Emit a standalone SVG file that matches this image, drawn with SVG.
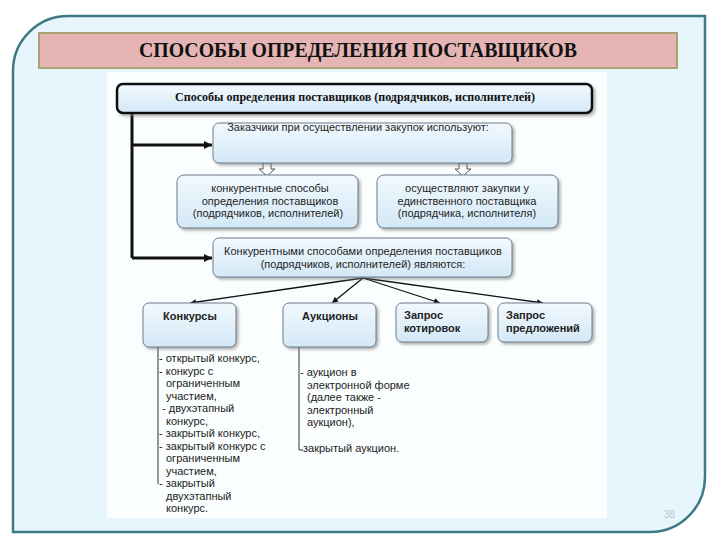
<svg xmlns="http://www.w3.org/2000/svg" width="720" height="540" viewBox="0 0 720 540">
<defs>
<linearGradient id="bg" x1="0" y1="0" x2="0" y2="1">
<stop offset="0" stop-color="#f2f9fe"/>
<stop offset="1" stop-color="#d3e8f6"/>
</linearGradient>
<filter id="sh" x="-10%" y="-10%" width="130%" height="140%">
<feDropShadow dx="2" dy="2" stdDeviation="1.5" flood-color="#7a7a7a" flood-opacity="0.6"/>
</filter>
<marker id="ah" viewBox="0 0 10 10" refX="10" refY="5" markerWidth="9" markerHeight="8" markerUnits="userSpaceOnUse" orient="auto">
<path d="M0,0 L10,5 L0,10 Z" fill="#111"/>
</marker>
<marker id="as" viewBox="0 0 10 10" refX="10" refY="5" markerWidth="7" markerHeight="6" markerUnits="userSpaceOnUse" orient="auto">
<path d="M0,0 L10,5 L0,10 Z" fill="#111"/>
</marker>
</defs>
<style>
.box{fill:url(#bg);stroke:#6f7d8a;stroke-width:1;filter:url(#sh)}
.t{font-family:"Liberation Sans",Arial,sans-serif;font-size:11px;fill:#1e1e1e;text-anchor:middle}
.b{font-weight:bold}
.l{font-family:"Liberation Sans",Arial,sans-serif;font-size:11px;fill:#222}
.thin{stroke:#111;stroke-width:1.3;fill:none}
.list{stroke:#333;stroke-width:1;fill:none}
</style>
<rect x="0" y="0" width="720" height="540" fill="#ffffff"/>
<path d="M68,16 H705 V477 A55,55 0 0 1 650,532 H13 V71 A55,55 0 0 1 68,16 Z" fill="#e6f6fc" stroke="#3e7a85" stroke-width="2.5"/>
<rect x="107" y="72" width="500" height="446" fill="#fbfefe"/>
<g id="title">
<rect x="39" y="33" width="638" height="35" fill="#e4b5b4" stroke="#a9a273" stroke-width="2"/>
<text x="358" y="57" font-family="'Liberation Serif','Times New Roman',serif" font-weight="bold" font-size="20" text-anchor="middle" textLength="438" lengthAdjust="spacingAndGlyphs" fill="#111">СПОСОБЫ ОПРЕДЕЛЕНИЯ ПОСТАВЩИКОВ</text>
</g>
<g id="connectors">
<path d="M132,113 V258" stroke="#111" stroke-width="3" fill="none"/>
<path d="M132,145 H212" stroke="#111" stroke-width="3" fill="none" marker-end="url(#ah)"/>
<path d="M132,258 H212" stroke="#111" stroke-width="3" fill="none" marker-end="url(#ah)"/>
<path d="M263,163 V169 H259 L267,176 L275,169 H271 V163 Z" fill="#ffffff" stroke="#555" stroke-width="1"/>
<path d="M459,163 V169 H455 L463,176 L471,169 H467 V163 Z" fill="#ffffff" stroke="#555" stroke-width="1"/>
<path class="thin" d="M363,278 L190,303" marker-end="url(#as)"/>
<path class="thin" d="M363,278 L332,303" marker-end="url(#as)"/>
<path class="thin" d="M363,278 L440,303" marker-end="url(#as)"/>
<path class="thin" d="M363,278 L543,303" marker-end="url(#as)"/>
<path class="list" d="M158,347 V484"/>
<path class="list" d="M299,347 V450 H303"/>
</g>
<g id="main">
<rect x="117" y="84" width="475" height="29" rx="6" fill="url(#bg)" stroke="#111" stroke-width="2.5" filter="url(#sh)"/>
<text x="355" y="101" font-family="'Liberation Serif','Times New Roman',serif" font-weight="bold" font-size="12" text-anchor="middle" textLength="360" lengthAdjust="spacingAndGlyphs" fill="#111">Способы определения поставщиков (подрядчиков, исполнителей)</text>
</g>
<g id="customers">
<rect class="box" x="213" y="123" width="299" height="40" rx="6"/>
<text class="t" x="358" y="131">Заказчики при осуществлении закупок используют:</text>
</g>
<g id="competitive">
<rect class="box" x="177" y="175" width="181" height="53" rx="7"/>
<text class="t" x="270" y="192">конкурентные способы</text>
<text class="t" x="270" y="205">определения поставщиков</text>
<text class="t" x="268" y="217">(подрядчиков, исполнителей)</text>
</g>
<g id="single">
<rect class="box" x="377" y="175" width="181" height="53" rx="7"/>
<text class="t" x="467" y="192">осуществляют закупки у</text>
<text class="t" x="467" y="205">единственного поставщика</text>
<text class="t" x="467" y="217">(подрядчика, исполнителя)</text>
</g>
<g id="methods">
<rect class="box" x="213" y="238" width="299" height="39" rx="6"/>
<text class="t" x="363" y="255">Конкурентными способами определения поставщиков</text>
<text class="t" x="363" y="268">(подрядчиков, исполнителей) являются:</text>
</g>
<g id="konkursy">
<rect class="box" x="143" y="303" width="93" height="44" rx="6"/>
<text class="t b" x="190" y="320">Конкурсы</text>
</g>
<g id="auktsiony">
<rect class="box" x="283" y="303" width="93" height="44" rx="6"/>
<text class="t b" x="330" y="320">Аукционы</text>
</g>
<g id="kotirovki">
<rect class="box" x="396" y="303" width="92" height="39" rx="6"/>
<text class="l b" x="404" y="319">Запрос</text>
<text class="l b" x="404" y="332">котировок</text>
</g>
<g id="predlozheniya">
<rect class="box" x="498" y="303" width="94" height="39" rx="6"/>
<text class="l b" x="506" y="319">Запрос</text>
<text class="l b" x="506" y="332">предложений</text>
</g>
<g id="konkursy-list">
<text class="l" x="159" y="362">- открытый конкурс,</text>
<text class="l" x="159" y="374.5">- конкурс с</text>
<text class="l" x="166" y="387">ограниченным</text>
<text class="l" x="166" y="399.5">участием,</text>
<text class="l" x="162" y="412">- двухэтапный</text>
<text class="l" x="166" y="424.5">конкурс,</text>
<text class="l" x="159" y="437">- закрытый конкурс,</text>
<text class="l" x="159" y="449.5">- закрытый конкурс с</text>
<text class="l" x="166" y="462">ограниченным</text>
<text class="l" x="166" y="474.5">участием,</text>
<text class="l" x="159" y="487">- закрытый</text>
<text class="l" x="166" y="499.5">двухэтапный</text>
<text class="l" x="166" y="512">конкурс.</text>
</g>
<g id="auktsiony-list">
<text class="l" x="300" y="376">- аукцион в</text>
<text class="l" x="307" y="388.5">электронной форме</text>
<text class="l" x="307" y="401">(далее также -</text>
<text class="l" x="307" y="413.5">электронный</text>
<text class="l" x="307" y="426">аукцион),</text>
<text class="l" x="303" y="452">закрытый аукцион.</text>
</g>
<text x="664" y="518" font-family="'Liberation Sans',Arial,sans-serif" font-size="10" fill="#b8c4cc">38</text>
</svg>
